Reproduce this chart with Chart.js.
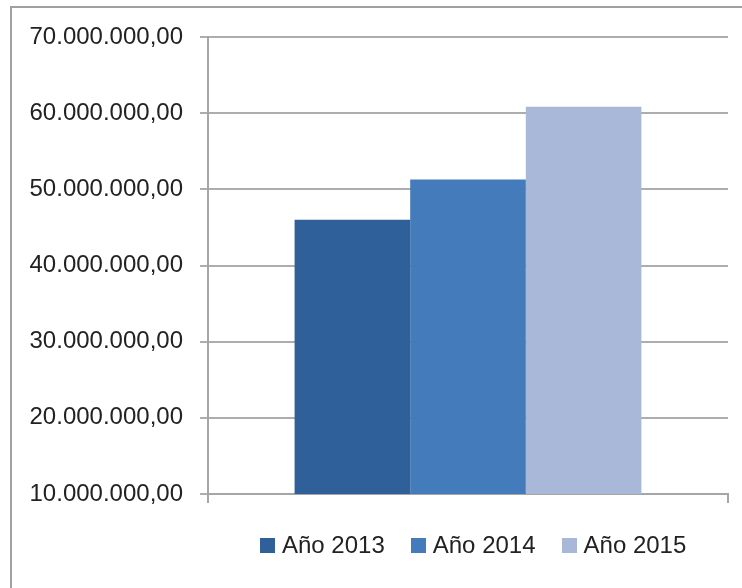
<!DOCTYPE html>
<html>
<head>
<meta charset="utf-8">
<script src="https://cdn.jsdelivr.net/npm/chart.js@4"></script>
<style>
  html, body { margin:0; padding:0; width:742px; height:588px; overflow:hidden; background:#fff; }
  #frame { position:absolute; left:10px; top:6px; width:760px; height:620px; border:2px solid #a0a0a0; box-sizing:border-box; }
  #wrap { position:absolute; left:0; top:0; width:742px; height:588px; }
  #legend { position:absolute; left:260px; top:531px; display:flex; align-items:center; font-family:"Liberation Sans", Arial, sans-serif; font-size:24px; color:#222; white-space:nowrap; }
  .item { display:flex; align-items:center; margin-right:26px; }
  .box { width:15px; height:15px; margin-right:7px; }
</style>
</head>
<body>
<div id="frame"></div>
<div id="wrap"><canvas id="c" width="742" height="588"></canvas></div>
<div id="legend"></div>
<script>
const categories = [""];
const seriesNames = ["Año 2013", "Año 2014", "Año 2015"];
const seriesValues = [[46000000], [51300000], [60850000]];
const seriesColors = ["#2F6099", "#447BBA", "#A9B8D8"];
const yTicks = [10000000, 20000000, 30000000, 40000000, 50000000, 60000000, 70000000];

function fmt(v) {
  const s = Math.round(v).toString().replace(/\B(?=(\d{3})+(?!\d))/g, ".");
  return s + ",00";
}

const datasets = seriesNames.map((n, i) => ({
  label: n,
  data: seriesValues[i],
  backgroundColor: seriesColors[i],
  borderWidth: 0,
  categoryPercentage: 0.667,
  barPercentage: 1.0
}));

new Chart(document.getElementById('c'), {
  type: 'bar',
  data: { labels: categories, datasets },
  options: {
    responsive: false,
    animation: false,
    layout: { padding: { left: 0, right: 14, top: 37, bottom: 85 } },
    plugins: { legend: { display: false }, tooltip: { enabled: false } },
    scales: {
      x: {
        offset: true,
        grid: { display: true, drawOnChartArea: false, drawTicks: true, tickLength: 9, color: '#a6a6a6', lineWidth: 2 },
        border: { display: true, color: '#a6a6a6', width: 2 },
        ticks: { display: false }
      },
      y: {
        min: yTicks[0],
        max: yTicks[yTicks.length - 1],
        afterBuildTicks: (s) => { s.ticks = yTicks.map(v => ({ value: v })); },
        afterFit: (s) => { s.width = 208; },
        grid: { color: '#adadad', lineWidth: 2, drawTicks: true, tickLength: 8 },
        border: { display: true, color: '#a6a6a6', width: 2 },
        ticks: {
          padding: 17,
          color: '#222',
          font: { family: '"Liberation Sans", Arial, sans-serif', size: 24 },
          callback: (v) => fmt(v)
        }
      }
    }
  }
});

const lg = document.getElementById('legend');
seriesNames.forEach((n, i) => {
  const it = document.createElement('div');
  it.className = 'item';
  const b = document.createElement('div');
  b.className = 'box';
  b.style.background = seriesColors[i];
  const t = document.createElement('span');
  t.textContent = n;
  it.appendChild(b); it.appendChild(t);
  lg.appendChild(it);
});
</script>
</body>
</html>
